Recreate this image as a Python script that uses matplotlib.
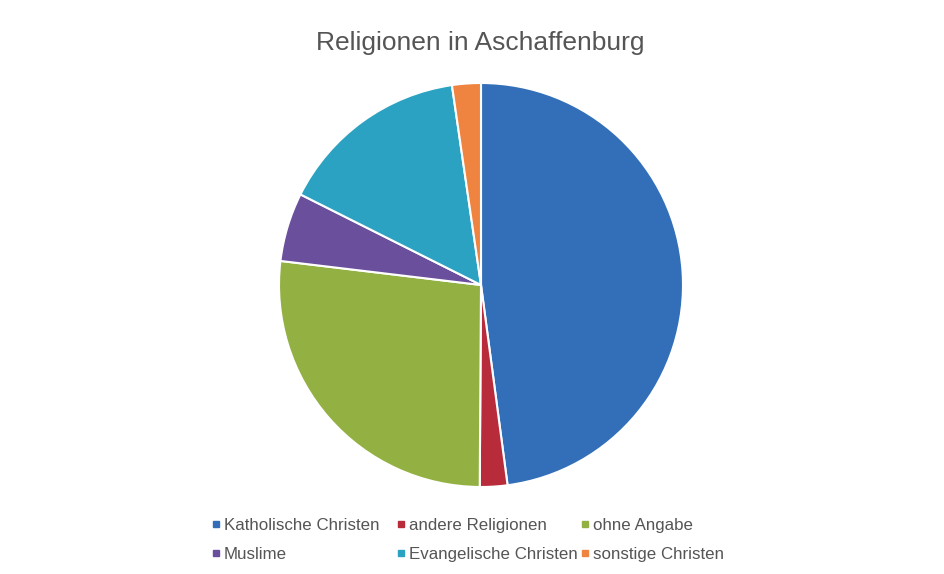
import matplotlib.pyplot as plt
from matplotlib.lines import Line2D

plt.rcParams['font.family'] = ['Liberation Sans', 'DejaVu Sans']

# Anteile in Prozent (aus dem Bild geschaetzt)
labels = ["Katholische Christen", "andere Religionen", "ohne Angabe",
          "Muslime", "Evangelische Christen", "sonstige Christen"]
values = [47.9, 2.2, 26.8, 5.5, 15.3, 2.3]
colors = ["#326fb8", "#b82b3b", "#93b043", "#6a4f9c", "#2ba2c2", "#ef8441"]

fig = plt.figure(figsize=(9.44, 5.74), dpi=100)
ax = fig.add_axes([(481 - 202) / 944, (574 - 285 - 202) / 574, 404 / 944, 404 / 574])

wedges, _ = ax.pie(values, colors=colors, startangle=90, counterclock=False,
                   wedgeprops=dict(edgecolor="white", linewidth=1.5))
ax.set_xlim(-1.0, 1.0)
ax.set_ylim(-1.0, 1.0)
ax.set_aspect("equal")

fig.text(480 / 944, 1 - 43 / 574, "Religionen in Aschaffenburg",
         ha="center", va="center", fontsize=19, color="#555555")

# Legende wie in Excel: drei gleich breite Spalten, zeilenweise gefuellt
col_x = [213, 398, 582]
for c in range(3):
    idx = [c, c + 3]
    handles = [Line2D([], [], linestyle="none", marker="s", markersize=5,
                      color=colors[i]) for i in idx]
    leg = fig.legend(handles, [labels[i] for i in idx], frameon=False,
                     loc="upper left", bbox_to_anchor=((col_x[c] - 16) / 944, 1 - 504 / 574),
                     fontsize=12.2, labelcolor="#555555", handlelength=0.6,
                     handletextpad=0.2, labelspacing=0.85, borderpad=0.3)

fig.savefig("out.png", dpi=100)
